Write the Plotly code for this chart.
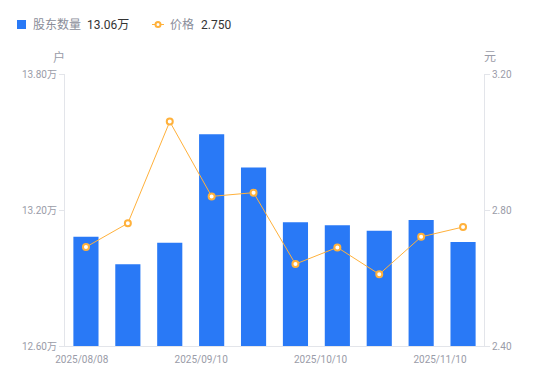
import plotly.graph_objects as go

dates = ["2025/08/08", "2025/08/20", "2025/08/29", "2025/09/10", "2025/09/19",
         "2025/09/30", "2025/10/10", "2025/10/20", "2025/10/31", "2025/11/10"]
holders_wan = [13.082, 12.961, 13.055, 13.534, 13.388, 13.146, 13.133, 13.109, 13.156, 13.059]
price = [2.691, 2.761, 3.060, 2.840, 2.851, 2.641, 2.690, 2.611, 2.721, 2.750]
x_tick_labels = ["2025/08/08", "2025/09/10", "2025/10/10", "2025/11/10"]
x_tick_pos = [-0.1, 2.75, 5.6, 8.45]
y1_ticks = [12.6, 13.2, 13.8]
y2_ticks = [2.4, 2.8, 3.2]
series_names = ["股东数量", "价格"]

BAR = "#2979F6"
ORANGE = "#FFB13B"
LABEL = "#9A9CA8"
LEGEND_GRAY = "#8A8D99"
DARK = "#333333"
AXIS = "#E3E5EA"
FONT = "Roboto, 'Noto Sans CJK SC', sans-serif"

W, H = 550, 381
BODY = 8  # default page margin around the figure
ML, MR, MT, MB = 57, 74, 66, 43
PW, PH = W - ML - MR, H - MT - MB


def px(xp):
    """page pixel x -> paper x"""
    return (xp - BODY - ML) / PW


def py(yp):
    """page pixel y -> paper y"""
    return 1 - (yp - BODY - MT) / PH


idx = list(range(len(dates)))

fig = go.Figure()
fig.add_trace(go.Bar(
    x=idx, y=holders_wan, customdata=dates, width=0.6,
    marker=dict(color=BAR, line=dict(width=0)),
    name=series_names[0], showlegend=False,
    hovertemplate="%{customdata}<br>%{y:.2f}万<extra></extra>",
    yaxis="y",
))
fig.add_trace(go.Scatter(
    x=idx, y=price, customdata=dates, mode="lines+markers",
    line=dict(color=ORANGE, width=1),
    marker=dict(symbol="circle", size=6, color="white", line=dict(color=ORANGE, width=2)),
    name=series_names[1], showlegend=False,
    hovertemplate="%{customdata}<br>%{y:.3f}元<extra></extra>",
    yaxis="y2",
))

# legend drawn as shapes + text
ly = 24.5
shapes = [
    dict(type="rect", xref="paper", yref="paper", x0=px(17), x1=px(26), y0=py(ly - 4.5), y1=py(ly + 4.5),
         fillcolor=BAR, line=dict(width=0), layer="above"),
    dict(type="line", xref="paper", yref="paper", x0=px(152), x1=px(164), y0=py(ly), y1=py(ly),
         line=dict(color=ORANGE, width=1), layer="above"),
    dict(type="circle", xref="paper", yref="paper", x0=px(155.5), x1=px(160.5), y0=py(ly - 2.5), y1=py(ly + 2.5),
         fillcolor="white", line=dict(color=ORANGE, width=2), layer="above"),
]

annotations = [
    dict(text=series_names[0], x=px(31), y=py(ly), color=LEGEND_GRAY),
    dict(text="%.2f万" % holders_wan[-1], x=px(85), y=py(ly), color=DARK),
    dict(text=series_names[1], x=px(168), y=py(ly), color=LEGEND_GRAY),
    dict(text="%.3f" % price[-1], x=px(198.5), y=py(ly), color=DARK),
]
annotations = [
    dict(text=a["text"], xref="paper", yref="paper", x=a["x"], y=a["y"], xanchor="left", yanchor="middle",
         showarrow=False, font=dict(size=12, color=a["color"], family=FONT))
    for a in annotations
]
annotations += [
    dict(text="户", xref="paper", yref="paper", x=0, y=1, xshift=-6, yshift=17,
         showarrow=False, font=dict(size=12, color=LABEL, family=FONT), xanchor="center", yanchor="middle"),
    dict(text="元", xref="paper", yref="paper", x=1, y=1, xshift=6, yshift=17,
         showarrow=False, font=dict(size=12, color=LABEL, family=FONT), xanchor="center", yanchor="middle"),
]

fig.update_layout(
    width=W, height=H,
    margin=dict(l=ML, r=MR, t=MT, b=MB, autoexpand=False),
    paper_bgcolor="white", plot_bgcolor="white",
    font=dict(family=FONT, size=12, color=LEGEND_GRAY),
    showlegend=False,
    xaxis=dict(
        range=[-0.5, len(dates) - 0.5],
        tickmode="array", tickvals=x_tick_pos, ticktext=x_tick_labels,
        ticks="outside", ticklen=4, tickcolor="rgba(0,0,0,0)",
        showgrid=False, zeroline=False,
        showline=True, linecolor=AXIS, linewidth=1,
        tickfont=dict(size=10, color=LABEL, family=FONT),
        fixedrange=True,
    ),
    yaxis=dict(
        range=[12.6, 13.8],
        tickmode="array", tickvals=y1_ticks,
        ticktext=["%.2f万" % v for v in y1_ticks],
        ticks="outside", ticklen=5, tickcolor=AXIS,
        showgrid=False, zeroline=False,
        showline=True, linecolor=AXIS, linewidth=1,
        tickfont=dict(size=10, color=LABEL, family=FONT),
    ),
    yaxis2=dict(
        range=[2.4, 3.2], overlaying="y", side="right",
        tickmode="array", tickvals=y2_ticks,
        ticktext=["%.2f" % v for v in y2_ticks],
        ticks="outside", ticklen=5, tickcolor=AXIS,
        showgrid=False, zeroline=False,
        showline=True, linecolor=AXIS, linewidth=1,
        tickfont=dict(size=10, color=LABEL, family=FONT),
    ),
    shapes=shapes,
    annotations=annotations,
)

fig.write_html("out.html")
